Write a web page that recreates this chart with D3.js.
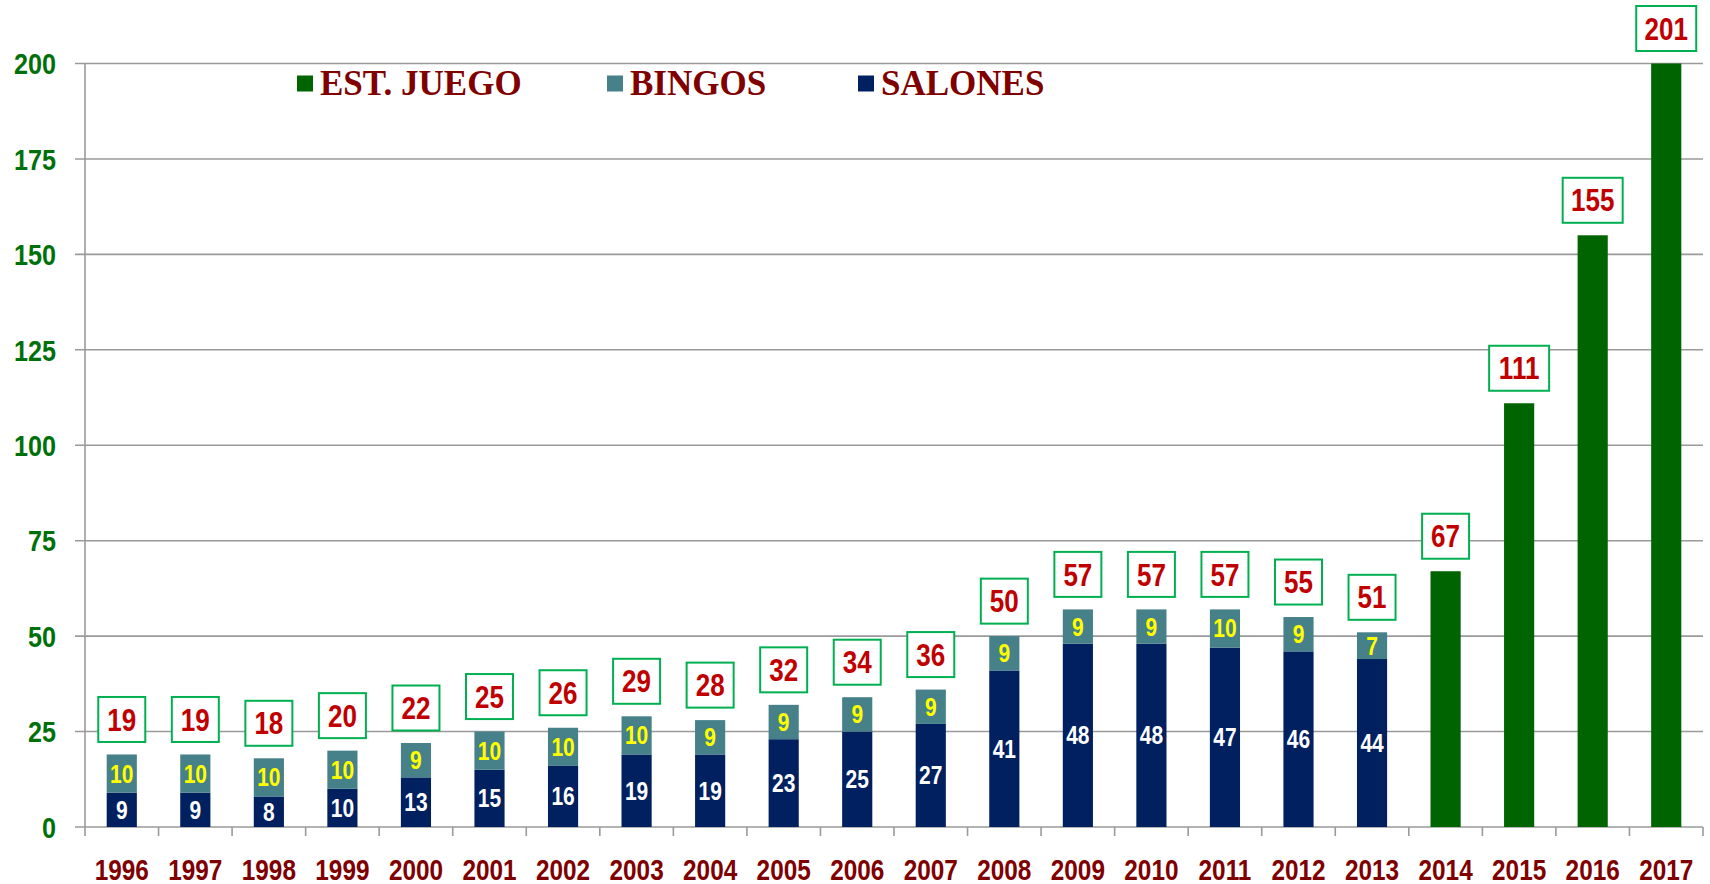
<!DOCTYPE html>
<html>
<head>
<meta charset="utf-8">
<script src="https://cdn.jsdelivr.net/npm/d3@7"></script>
<style>
  html, body { margin: 0; padding: 0; background: #ffffff; overflow: hidden; }
  svg { display: block; }
  .num { font-family: "Liberation Sans", Arial, sans-serif; font-weight: bold; }
  .leg { font-family: "Liberation Serif", "Times New Roman", serif; font-weight: bold; }
</style>
</head>
<body>
<svg id="chart" width="1710" height="884"></svg>
<script>
// ---- data ----
const years = ["1996","1997","1998","1999","2000","2001","2002","2003","2004","2005","2006",
               "2007","2008","2009","2010","2011","2012","2013","2014","2015","2016","2017"];
const salones = [9,9,8,10,13,15,16,19,19,23,25,27,41,48,48,47,46,44,0,0,0,0];
const bingos  = [10,10,10,10,9,10,10,10,9,9,9,9,9,9,9,10,9,7,0,0,0,0];
const estJuego = [0,0,0,0,0,0,0,0,0,0,0,0,0,0,0,0,0,0,67,111,155,201];
const totals = [19,19,18,20,22,25,26,29,28,32,34,36,50,57,57,57,55,51,67,111,155,201];
const yTicks = [0,25,50,75,100,125,150,175,200];
const seriesNames = ["EST. JUEGO","BINGOS","SALONES"];

// ---- style ----
const colors = { est: "#006400", bingos: "#468088", salones: "#002060" };
const gridColor = "#9a9a9a";
const SX = 0.84; // horizontal compression to mimic a narrow bold face

const svg = d3.select("#chart");
const x0 = 85, x1 = 1703, yTop = 63.5, yBot = 827;

const x = d3.scaleBand().domain(years).range([x0, x1]).paddingInner(0.59).paddingOuter(0.295);
const y = d3.scaleLinear().domain([0, 200]).range([yBot, yTop]).clamp(true);

function narrow(sel, fx, fy) {
  sel.attr("class", "num")
     .attr("x", 0).attr("y", 0)
     .attr("transform", (d, i) => `translate(${fx(d, i)},${fy(d, i)}) scale(${SX},1)`);
  return sel;
}

// gridlines
svg.append("g").selectAll("line").data(yTicks).join("line")
  .attr("x1", x0 - 10).attr("x2", x1)
  .attr("y1", d => y(d)).attr("y2", d => y(d))
  .attr("stroke", gridColor).attr("stroke-width", 1.6);

// y axis line
svg.append("line").attr("x1", x0).attr("x2", x0).attr("y1", y(200)).attr("y2", yBot)
  .attr("stroke", gridColor).attr("stroke-width", 1.6);

// y labels
narrow(svg.append("g").selectAll("text").data(yTicks).join("text"), () => 56, d => y(d))
  .attr("dy", "0.36em")
  .attr("text-anchor", "end")
  .attr("font-size", 30)
  .attr("fill", "#00700a")
  .text(d => d);

// x axis ticks at category boundaries
const bounds = years.map(d => x(d) - (x.step() - x.bandwidth()) / 2);
bounds.push(x1);
svg.append("g").selectAll("line").data(bounds).join("line")
  .attr("x1", d => d).attr("x2", d => d)
  .attr("y1", yBot).attr("y2", yBot + 9)
  .attr("stroke", gridColor).attr("stroke-width", 1.6);

// x labels
narrow(svg.append("g").selectAll("text").data(years).join("text"),
       d => x(d) + x.bandwidth() / 2, () => 880)
  .attr("text-anchor", "middle")
  .attr("font-size", 29)
  .attr("fill", "#7f0000")
  .text(d => d);

const bw = x.bandwidth();
const idx = d3.range(years.length);

// salones bars
svg.append("g").selectAll("rect").data(idx.filter(i => salones[i] > 0)).join("rect")
  .attr("x", i => x(years[i])).attr("width", bw)
  .attr("y", i => y(salones[i])).attr("height", i => y(0) - y(salones[i]))
  .attr("fill", colors.salones);
// bingos bars
svg.append("g").selectAll("rect").data(idx.filter(i => bingos[i] > 0)).join("rect")
  .attr("x", i => x(years[i])).attr("width", bw)
  .attr("y", i => y(salones[i] + bingos[i])).attr("height", i => y(salones[i]) - y(salones[i] + bingos[i]))
  .attr("fill", colors.bingos);
// est juego bars
svg.append("g").selectAll("rect").data(idx.filter(i => estJuego[i] > 0)).join("rect")
  .attr("x", i => x(years[i])).attr("width", bw)
  .attr("y", i => y(estJuego[i])).attr("height", i => y(0) - y(estJuego[i]))
  .attr("fill", colors.est);

// inner labels
narrow(svg.append("g").selectAll("text").data(idx.filter(i => salones[i] > 0)).join("text"),
       i => x(years[i]) + bw / 2, i => (y(0) + y(salones[i])) / 2)
  .attr("dy", "0.36em").attr("text-anchor", "middle")
  .attr("font-size", 25).attr("fill", "#ffffff")
  .text(i => salones[i]);
narrow(svg.append("g").selectAll("text").data(idx.filter(i => bingos[i] > 0)).join("text"),
       i => x(years[i]) + bw / 2, i => (y(salones[i]) + y(salones[i] + bingos[i])) / 2)
  .attr("dy", "0.36em").attr("text-anchor", "middle")
  .attr("font-size", 25).attr("fill", "#ffff00")
  .text(i => bingos[i]);

// total boxes
const boxG = svg.append("g").selectAll("g").data(idx).join("g")
  .attr("transform", i => `translate(${x(years[i]) + bw / 2},${y(totals[i]) - 35})`);
boxG.append("rect")
  .attr("x", i => totals[i] >= 100 ? -30 : -23.5)
  .attr("width", i => totals[i] >= 100 ? 60 : 47)
  .attr("y", -22.5).attr("height", 45)
  .attr("fill", "#ffffff").attr("stroke", "#00b050").attr("stroke-width", 2);
boxG.append("text")
  .attr("class", "num")
  .attr("transform", `scale(${SX},1)`)
  .attr("text-anchor", "middle").attr("dy", "0.36em")
  .attr("font-size", 31).attr("fill", "#c00000")
  .text(i => totals[i]);

// legend
const legX = [297, 607, 858];
const legColors = [colors.est, colors.bingos, colors.salones];
const leg = svg.append("g").selectAll("g").data(seriesNames).join("g")
  .attr("transform", (d, i) => `translate(${legX[i]},84)`);
leg.append("rect").attr("x", 0).attr("y", -8.5).attr("width", 16).attr("height", 16)
  .attr("fill", (d, i) => legColors[i]);
leg.append("text").attr("class", "leg")
  .attr("x", 23).attr("y", 11)
  .attr("font-size", 35).attr("fill", "#800000")
  .text(d => d);
</script>
</body>
</html>
